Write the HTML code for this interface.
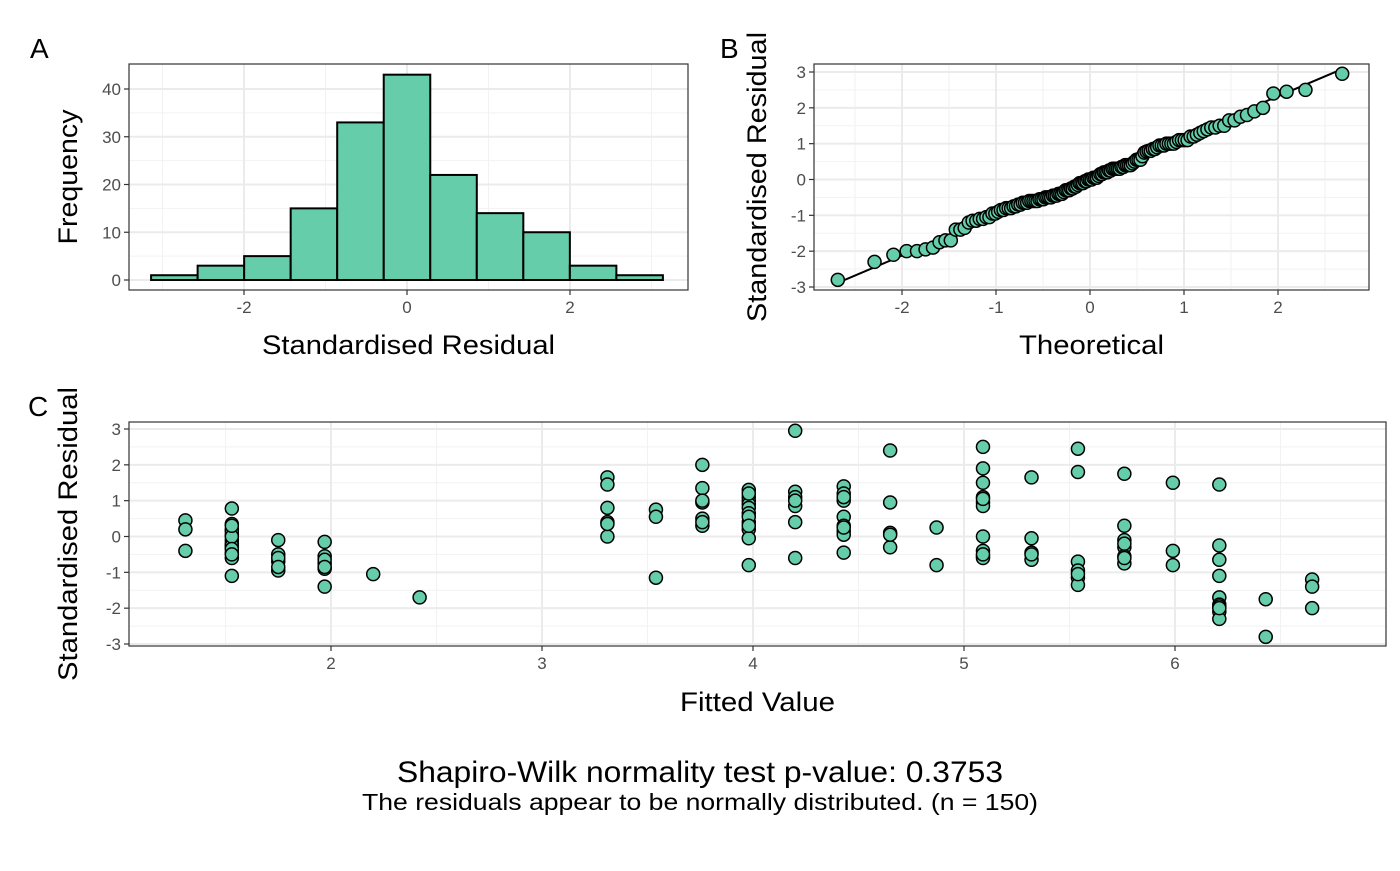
<!DOCTYPE html>
<html><head><meta charset="utf-8"><style>
body{margin:0;background:#fff;font-family:"Liberation Sans",Arial,sans-serif;}
svg text{font-family:"Liberation Sans",Arial,sans-serif;}
</style></head><body>
<svg id="s" width="1400" height="866" xmlns="http://www.w3.org/2000/svg">
<rect width="1400" height="866" fill="#fff"/>
<text x="30" y="58" font-size="28">A</text>
<text x="720" y="58" font-size="28">B</text>
<text x="28" y="416" font-size="28">C</text>
<text x="700" y="782" font-size="30" text-anchor="middle" textLength="606" lengthAdjust="spacingAndGlyphs">Shapiro-Wilk normality test p-value: 0.3753</text>
<text x="700" y="810" font-size="23" text-anchor="middle" textLength="676" lengthAdjust="spacingAndGlyphs">The residuals appear to be normally distributed. (n = 150)</text>
</svg>
<script>
const histCounts=[1,3,5,15,33,43,22,14,10,3,1];
const histMin=-3.14, histMax=3.14;
const fittedGroups=[1.31,1.53,1.75,1.97,2.20,2.42,3.31,3.54,3.76,3.98,4.20,4.43,4.65,4.87,5.09,5.32,5.54,5.76,5.99,6.21,6.43,6.65];
const groupResiduals=[
[0.45,0.2,-0.4],
[0.78,0.35,0.2,0.05,-0.1,-0.2,-0.3,-0.45,-0.6,-1.1,0.15,-0.25,0.0,-0.35,-0.5,0.3],
[-0.1,-0.5,-0.7,-0.95,-0.6,-0.85],
[-0.15,-0.55,-0.75,-0.9,-1.4,-0.65,-0.85],
[-1.05],[-1.7],
[1.65,1.45,0.8,0.4,0.0,0.35],
[0.75,0.55,-1.15],
[2.0,1.35,0.95,0.5,0.3,0.4,1.0],
[1.3,1.1,1.0,0.9,0.8,0.65,0.4,0.2,-0.05,-0.8,1.2,0.55,0.3],
[2.95,1.25,1.1,0.85,0.4,-0.6,1.0],
[1.4,1.2,1.0,0.55,0.3,0.15,0.05,-0.45,1.1,0.25],
[2.4,0.95,0.1,-0.3,0.05],
[0.25,-0.8],
[2.5,1.9,1.5,1.1,0.95,0.85,0.0,-0.4,-0.55,-0.6,1.05,-0.5],
[1.65,-0.05,-0.45,-0.65,-0.5],
[2.45,1.8,-0.7,-0.95,-1.15,-1.35,-1.05],
[1.75,0.3,-0.1,-0.3,-0.55,-0.75,-0.2,-0.6],
[1.5,-0.4,-0.8],
[1.45,-0.25,-0.65,-1.1,-1.7,-1.9,-2.1,-2.3,-1.95,-2.0],
[-1.75,-2.8],
[-1.2,-1.4,-2.0]];
const histYTicks=[0,10,20,30,40];
const histXTicks=[-2,0,2];
const qqTicks=[-2,-1,0,1,2];
const resTicks=[-3,-2,-1,0,1,2,3];
const fitTicks=[2,3,4,5,6];

const S=document.getElementById('s');const NS='http://www.w3.org/2000/svg';
function mk(t,a,p){const e=document.createElementNS(NS,t);for(const k in a)e.setAttribute(k,a[k]);(p||S).appendChild(e);return e;}
function lin(d0,d1,r0,r1){return v=>r0+(v-d0)*(r1-r0)/(d1-d0);}
function panel(name,x0,y0,x1,y1,sx,sy,xt,yt,xmin,ymin,xtitle,ytitle,ytx,xty,xlen,ylen){
 const g=mk('g',{});
 const grid=mk('g',{},g);
 xmin.forEach(v=>{const x=sx(v);if(x>x0&&x<x1)mk('line',{x1:x,x2:x,y1:y0,y2:y1,stroke:'#f2f2f2','stroke-width':1},grid)});
 ymin.forEach(v=>{const y=sy(v);if(y>y0&&y<y1)mk('line',{x1:x0,x2:x1,y1:y,y2:y,stroke:'#f2f2f2','stroke-width':1},grid)});
 xt.forEach(v=>{const x=sx(v);mk('line',{x1:x,x2:x,y1:y0,y2:y1,stroke:'#ebebeb','stroke-width':2},grid);
  mk('line',{x1:x,x2:x,y1:y1,y2:y1+5,stroke:'#333','stroke-width':1.2},g);
  const t=mk('text',{x:x,y:y1+23,'font-size':17,fill:'#4d4d4d','text-anchor':'middle'},g);t.textContent=v;
  });
 yt.forEach(v=>{const y=sy(v);mk('line',{x1:x0,x2:x1,y1:y,y2:y,stroke:'#ebebeb','stroke-width':2},grid);
  mk('line',{x1:x0-5,x2:x0,y1:y,y2:y,stroke:'#333','stroke-width':1.2},g);
  const t=mk('text',{x:x0-8,y:y+6,'font-size':17,fill:'#4d4d4d','text-anchor':'end'},g);t.textContent=v;
  });
 const xl=mk('text',{x:(x0+x1)/2,y:xty,'font-size':27,'text-anchor':'middle',textLength:xlen,lengthAdjust:'spacingAndGlyphs'},g);xl.textContent=xtitle;
 
 const yl=mk('text',{x:0,y:0,'font-size':27,'text-anchor':'middle',textLength:ylen,lengthAdjust:'spacingAndGlyphs',transform:`translate(${ytx},${(y0+y1)/2}) rotate(-90)`},g);yl.textContent=ytitle;
 
 return g;
}
function border(g,x0,y0,x1,y1){const r=mk('rect',{x:x0,y:y0,width:x1-x0,height:y1-y0,fill:'none',stroke:'#333','stroke-width':1.2},g);}
function pt(g,x,y){const c=mk('circle',{cx:x,cy:y,r:6.5,fill:'#66cdaa',stroke:'#000','stroke-width':1.5},g);
 }

// Panel A
const ax=lin(0,2,407,570), ay=lin(0,40,280,89);
const gA=panel('histogram-panel',129,64,688,290,ax,ay,histXTicks,histYTicks,[-3,-1,1,3],[5,15,25,35],'Standardised Residual','Frequency',77,354,293,135);
const bw=(histMax-histMin)/histCounts.length;
histCounts.forEach((c,i)=>{const l=histMin+i*bw;const r=mk('rect',{x:ax(l),y:ay(c),width:ax(l+bw)-ax(l),height:ay(0)-ay(c),fill:'#66cdaa',stroke:'#000','stroke-width':2},gA);
 });
border(gA,129,64,688,290);

const allRes=[];groupResiduals.forEach(a=>a.forEach(v=>allRes.push(v)));
const sorted=allRes.slice().sort((a,b)=>a-b);const n=sorted.length;
function qnorm(p){const a=[-39.6968302866538,220.946098424521,-275.928510446969,138.357751867269,-30.6647980661472,2.50662827745924],b=[-54.4760987982241,161.585836858041,-155.698979859887,66.8013118877197,-13.2806815528857],c=[-7.78489400243029e-3,-0.322396458041136,-2.40075827716184,-2.54973253934373,4.37466414146497,2.93816398269878],d=[7.78469570904146e-3,0.32246712907004,2.445134137143,3.75440866190742];let q,r;
 if(p<0.02425){q=Math.sqrt(-2*Math.log(p));return(((((c[0]*q+c[1])*q+c[2])*q+c[3])*q+c[4])*q+c[5])/((((d[0]*q+d[1])*q+d[2])*q+d[3])*q+1);}
 if(p>1-0.02425){q=Math.sqrt(-2*Math.log(1-p));return-(((((c[0]*q+c[1])*q+c[2])*q+c[3])*q+c[4])*q+c[5])/((((d[0]*q+d[1])*q+d[2])*q+d[3])*q+1);}
 q=p-0.5;r=q*q;return(((((a[0]*r+a[1])*r+a[2])*r+a[3])*r+a[4])*r+a[5])*q/(((((b[0]*r+b[1])*r+b[2])*r+b[3])*r+b[4])*r+1);}
function quant(p){const h=(n-1)*p,lo=Math.floor(h);return sorted[lo]+(h-lo)*(sorted[Math.min(lo+1,n-1)]-sorted[lo]);}

// Panel B
const bx=lin(0,2,1090,1278), by=lin(0,3,179.5,72);
const gB=panel('qq-panel',814,64,1369,290,bx,by,qqTicks,resTicks,[-2.5,-1.5,-0.5,0.5,1.5,2.5],[-2.5,-1.5,-0.5,0.5,1.5,2.5],'Theoretical','Standardised Residual',766,354,145,290);
const z1=qnorm(0.25),z3=qnorm(0.75),q1=quant(0.25),q3=quant(0.75);const slope=(q3-q1)/(z3-z1),icp=q1-slope*z1;
const tmin=qnorm(0.5/n),tmax=qnorm(1-0.5/n);
const ql=mk('line',{x1:bx(tmin),y1:by(icp+slope*tmin),x2:bx(tmax),y2:by(icp+slope*tmax),stroke:'#000','stroke-width':2},gB);

sorted.forEach((v,i)=>pt(gB,bx(qnorm((i+0.5)/n)),by(v)));
border(gB,814,64,1369,290);

// Panel C
const cx=lin(2,6,331,1175), cy=lin(0,3,536.5,429);
const gC=panel('residual-vs-fitted-panel',129,422,1386,646,cx,cy,fitTicks,resTicks,[1.5,2.5,3.5,4.5,5.5,6.5],[-2.5,-1.5,-0.5,0.5,1.5,2.5],'Fitted Value','Standardised Residual',77,711,155,294);
fittedGroups.forEach((f,i)=>groupResiduals[i].forEach(v=>pt(gC,cx(f),cy(v))));
border(gC,129,422,1386,646);
</script>
</body></html>
